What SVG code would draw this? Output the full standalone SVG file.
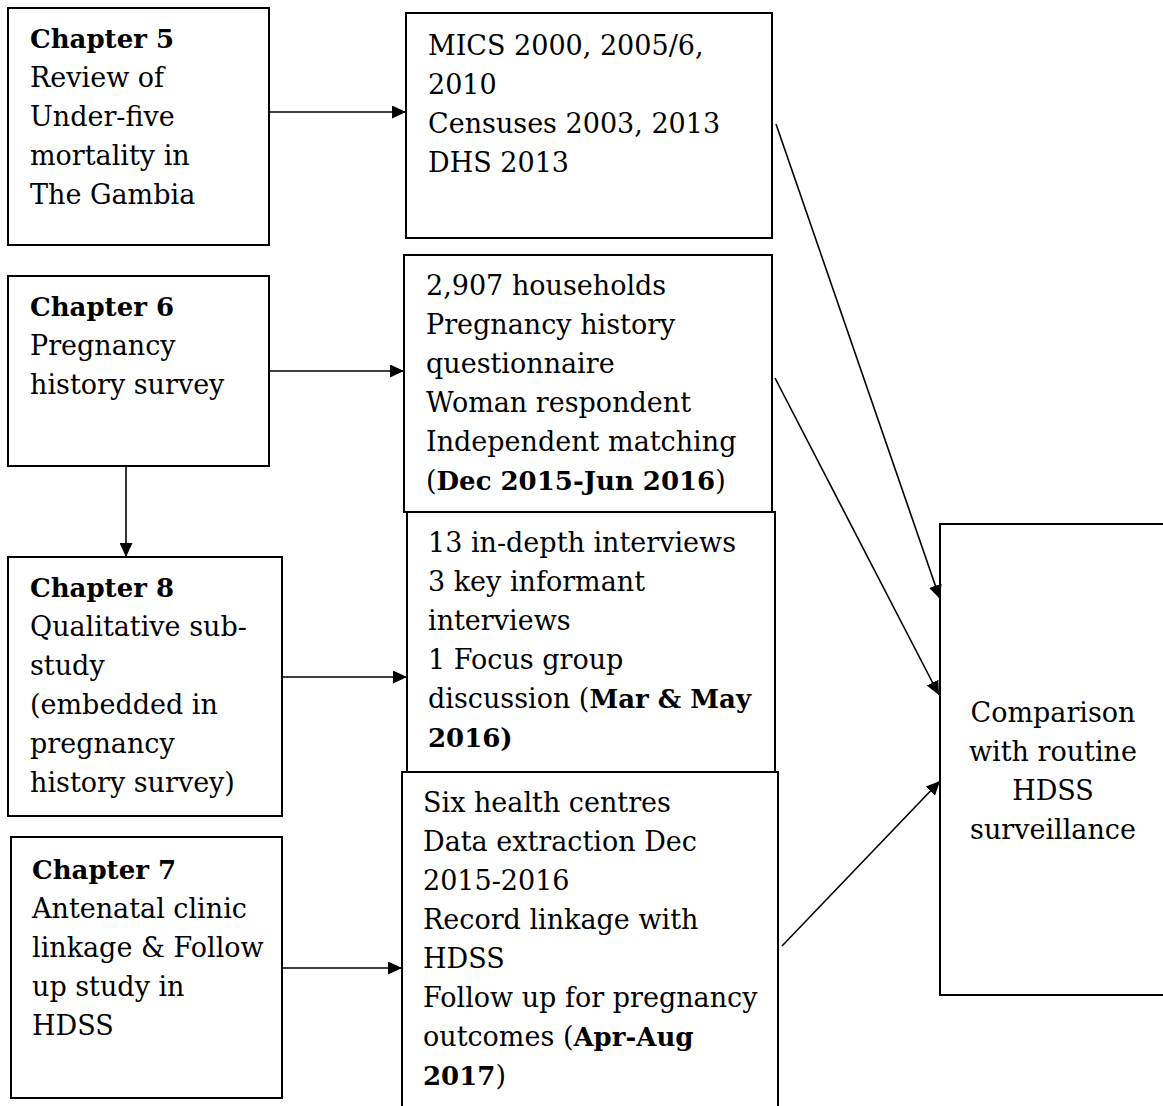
<svg xmlns="http://www.w3.org/2000/svg" width="1163" height="1106" viewBox="0 0 1163 1106">
<defs>
<style>
.box{fill:#fff;stroke:#000;stroke-width:2}
.t{font-family:"DejaVu Serif","Liberation Serif",serif;font-size:27px;fill:#000}
.b{font-weight:bold;font-size:26px}
.c{stroke:#000;stroke-width:1.6;fill:none;marker-end:url(#ah)}
</style>
<marker id="ah" viewBox="0 0 14 13" refX="14" refY="6.5" markerWidth="14" markerHeight="13" markerUnits="userSpaceOnUse" orient="auto">
<path d="M0,0 L14,6.5 L0,13 Z" fill="#000"/>
</marker>
</defs>
<rect width="1163" height="1106" fill="#fff"/>
<g id="ch5">
<rect class="box" x="8" y="8" width="261" height="237"/>
<text class="t"><tspan x="30" y="48" class="b">Chapter 5</tspan><tspan x="30" y="87">Review of</tspan><tspan x="30" y="126">Under-five</tspan><tspan x="30" y="165">mortality in</tspan><tspan x="30" y="204">The Gambia</tspan></text>
</g>
<g id="ch6">
<rect class="box" x="8" y="276" width="261" height="190"/>
<text class="t"><tspan x="30" y="316" class="b">Chapter 6</tspan><tspan x="30" y="355">Pregnancy</tspan><tspan x="30" y="394">history survey</tspan></text>
</g>
<g id="ch8">
<rect class="box" x="8" y="557" width="274" height="259"/>
<text class="t"><tspan x="30" y="597" class="b">Chapter 8</tspan><tspan x="30" y="636">Qualitative sub-</tspan><tspan x="30" y="675">study</tspan><tspan x="30" y="714">(embedded in</tspan><tspan x="30" y="753">pregnancy</tspan><tspan x="30" y="792">history survey)</tspan></text>
</g>
<g id="ch7">
<rect class="box" x="11" y="837" width="271" height="261"/>
<text class="t"><tspan x="32" y="879" class="b">Chapter 7</tspan><tspan x="32" y="918">Antenatal clinic</tspan><tspan x="32" y="957">linkage &amp; Follow</tspan><tspan x="32" y="996">up study in</tspan><tspan x="32" y="1035">HDSS</tspan></text>
</g>
<g id="mics">
<rect class="box" x="406" y="13" width="366" height="225"/>
<text class="t"><tspan x="428" y="55">MICS 2000, 2005/6,</tspan><tspan x="428" y="94">2010</tspan><tspan x="428" y="133">Censuses 2003, 2013</tspan><tspan x="428" y="172">DHS 2013</tspan></text>
</g>
<g id="survey">
<rect class="box" x="404" y="255" width="368" height="257"/>
<text class="t"><tspan x="426" y="295">2,907 households</tspan><tspan x="426" y="334">Pregnancy history</tspan><tspan x="426" y="373">questionnaire</tspan><tspan x="426" y="412">Woman respondent</tspan><tspan x="426" y="451">Independent matching</tspan><tspan x="426" y="490">(<tspan class="b">Dec 2015-Jun 2016</tspan>)</tspan></text>
</g>
<g id="qual">
<rect class="box" x="407" y="512" width="368" height="260"/>
<text class="t"><tspan x="428" y="552">13 in-depth interviews</tspan><tspan x="428" y="591">3 key informant</tspan><tspan x="428" y="630">interviews</tspan><tspan x="428" y="669">1 Focus group</tspan><tspan x="428" y="708">discussion (<tspan class="b">Mar &amp; May</tspan></tspan><tspan x="428" y="747" class="b">2016)</tspan></text>
</g>
<g id="anc">
<rect class="box" x="402" y="772" width="376" height="340"/>
<text class="t"><tspan x="423" y="812">Six health centres</tspan><tspan x="423" y="851">Data extraction Dec</tspan><tspan x="423" y="890">2015-2016</tspan><tspan x="423" y="929">Record linkage with</tspan><tspan x="423" y="968">HDSS</tspan><tspan x="423" y="1007">Follow up for pregnancy</tspan><tspan x="423" y="1046">outcomes (<tspan class="b">Apr-Aug</tspan></tspan><tspan x="423" y="1085"><tspan class="b">2017</tspan>)</tspan></text>
</g>
<g id="comparison">
<rect class="box" x="940" y="524" width="240" height="471"/>
<text class="t" text-anchor="middle"><tspan x="1053" y="722">Comparison</tspan><tspan x="1053" y="761">with routine</tspan><tspan x="1053" y="800">HDSS</tspan><tspan x="1053" y="839">surveillance</tspan></text>
</g>
<g id="connectors">
<line class="c" x1="269" y1="112" x2="406" y2="112"/>
<line class="c" x1="269" y1="371" x2="404" y2="371"/>
<line class="c" x1="126" y1="466" x2="126" y2="557"/>
<line class="c" x1="282" y1="677" x2="407" y2="677"/>
<line class="c" x1="282" y1="968" x2="402" y2="968"/>
<line class="c" x1="776" y1="124" x2="940" y2="599"/>
<line class="c" x1="775" y1="378" x2="939" y2="695"/>
<line class="c" x1="782" y1="946" x2="940" y2="781"/>
</g>
</svg>
